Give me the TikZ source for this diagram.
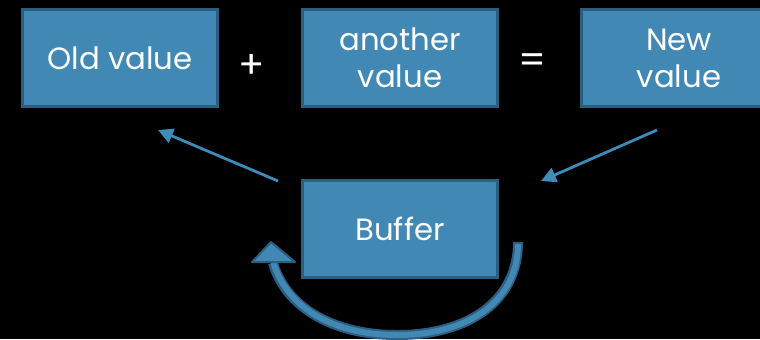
\documentclass[tikz,border=0pt]{standalone}
\usepackage{fontspec}
\setmainfont{Poppins}
\usetikzlibrary{arrows.meta}
\definecolor{boxfill}{RGB}{65,137,180}
\definecolor{boxline}{RGB}{44,94,128}
\definecolor{arrowc}{RGB}{62,140,186}
\begin{document}
\begin{tikzpicture}[x=0.02cm,y=-0.02cm,
  valbox/.style={draw=boxline,fill=boxfill,line width=0.05cm,minimum width=3.9cm,minimum height=1.94cm,inner sep=0pt,text=white,align=center,font=\fontsize{17.5}{21}\selectfont},
  optext/.style={text=white,font=\fontsize{22}{24}\selectfont},
  thinarrow/.style={draw=arrowc,line width=0.055cm,-{Triangle[length=0.3cm,width=0.3cm]}}]
\useasboundingbox[fill=black] (0,0) rectangle (760,339);
\clip (0,0) rectangle (760,339);
\node[valbox] (old) at (120,58) {Old value};
\node[optext] (plus) at (252,66) {+};
\node[valbox] (another) at (400,58) {another\\value};
\node[optext] (eq) at (532,64) {=};
\node[valbox] (new) at (679,58) {New\\value};
\node[valbox] (buffer) at (400,229) {Buffer};
\coordinate (a1s) at (278,181);
\coordinate (a1e) at (158,130);
\coordinate (a2s) at (657,130);
\coordinate (a2e) at (541,181);
\draw[thinarrow] (a1s) -- (a1e);
\draw[thinarrow] (a2s) -- (a2e);
% curved arrow
\coordinate (cs) at (518,242);
\coordinate (cb) at (397,335);
\coordinate (ce) at (273,263);
\coordinate (ctip) at (271,242);
\draw[boxline,line width=0.2cm] (cs) .. controls (518,300) and (470,335) .. (cb) .. controls (330,335) and (285,305) .. (ce);
\draw[boxfill,line width=0.12cm] ([yshift=-0.04cm]cs) .. controls (518,300) and (470,335) .. (cb) .. controls (330,335) and (285,305) .. ([yshift=0.04cm]ce);
\filldraw[fill=boxfill,draw=boxline,line width=0.04cm,line join=round] (ctip) -- (295,262) -- (252,262) -- cycle;
\end{tikzpicture}
\end{document}
